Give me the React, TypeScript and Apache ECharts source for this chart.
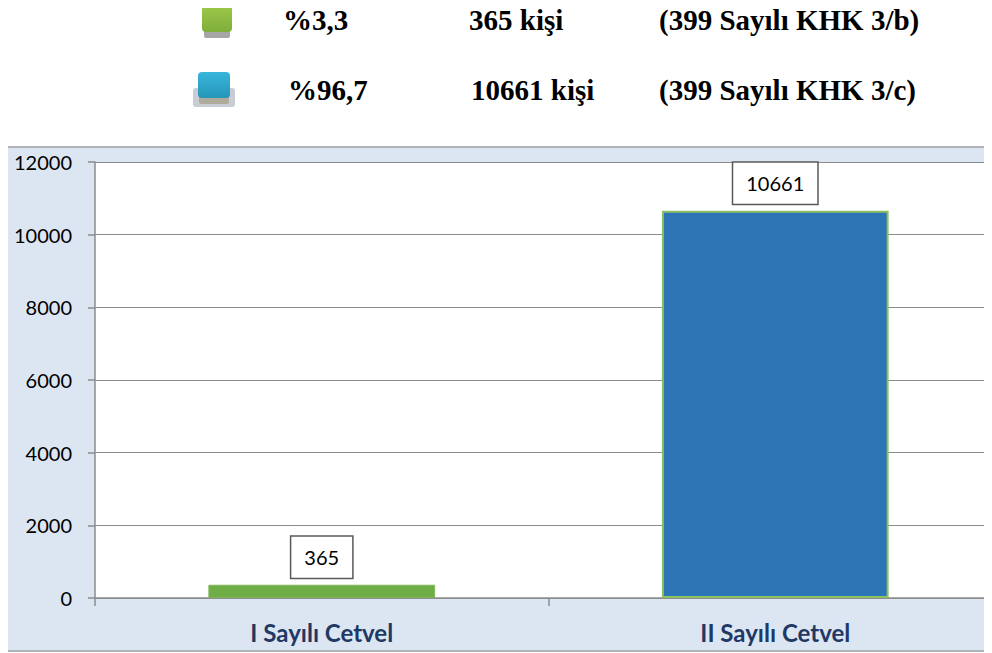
import React, { useEffect, useRef } from "react";
import * as echarts from "echarts";

const categories = ["I Sayılı Cetvel", "II Sayılı Cetvel"];
const values = [365, 10661];
const barColors = ["#70ad47", "#2e75b6"];
const yTicks = { min: 0, max: 12000, interval: 2000 };
const legendPercents = ["%3,3", "%96,7"];
const legendCounts = ["365 kişi", "10661 kişi"];
const legendNotes = ["(399 Sayılı KHK 3/b)", "(399 Sayılı KHK 3/c)"];

export default function App() {
  const ref = useRef<HTMLDivElement>(null);
  useEffect(() => {
    if (!ref.current) return;
    const chart = echarts.init(ref.current, null, { renderer: "svg" });
    const serif = "'Liberation Serif', 'Times New Roman', serif";
    const sans = "Lato, 'Open Sans', sans-serif";
    const legendText = (txt: string, x: number, y: number) => ({
      type: "text",
      x,
      y,
      style: {
        text: txt,
        font: `bold 29px ${serif}`,
        fill: "#000",
        textVerticalAlign: "middle",
      },
    });
    // coordinates below: chart origin is at page (8, 0)
    const rowY = [20, 90];
    const pctX = [275, 280];
    const countX = [461, 463];
    const noteX = [651, 651];
    const graphics: any[] = [
      {
        type: "rect",
        z: -10,
        shape: { x: -1, y: 147, width: 1100, height: 504 },
        style: { fill: "#dce6f2", stroke: "#b0b4b8", lineWidth: 2 },
      },
      // green icon
      {
        type: "rect",
        shape: { x: 196, y: 30, width: 26, height: 8, r: 2 },
        style: { fill: "#a6a6a6" },
      },
      {
        type: "rect",
        shape: { x: 194, y: 5, width: 30, height: 27, r: 4 },
        style: {
          fill: new echarts.graphic.LinearGradient(0, 0, 0, 1, [
            { offset: 0, color: "#9dc84a" },
            { offset: 1, color: "#7fae3a" },
          ]),
        },
      },
      // blue icon
      {
        type: "rect",
        shape: { x: 185, y: 88, width: 42, height: 19, r: 3 },
        style: { fill: "#c8ccd4" },
      },
      {
        type: "rect",
        shape: { x: 191, y: 90, width: 30, height: 14, r: 2 },
        style: { fill: "#b0aa9c" },
      },
      {
        type: "rect",
        shape: { x: 190, y: 72, width: 32, height: 26, r: 4 },
        style: {
          fill: new echarts.graphic.LinearGradient(0, 0, 0, 1, [
            { offset: 0, color: "#38b6dc" },
            { offset: 1, color: "#2596b8" },
          ]),
        },
      },
    ];
    for (let i = 0; i < 2; i++) {
      graphics.push(legendText(legendPercents[i], pctX[i], rowY[i]));
      graphics.push(legendText(legendCounts[i], countX[i], rowY[i]));
      graphics.push(legendText(legendNotes[i], noteX[i], rowY[i]));
    }

    chart.setOption({
      animation: false,
      graphic: graphics,
      grid: {
        left: 87,
        top: 162,
        width: 907,
        height: 436,
        show: true,
        backgroundColor: "#ffffff",
        borderWidth: 0,
      },
      xAxis: {
        type: "category",
        data: categories,
        axisLine: { lineStyle: { color: "#8c8c8c", width: 1.5 } },
        axisTick: { show: true, length: 8, lineStyle: { color: "#8c8c8c", width: 1.5 } },
        axisLabel: {
          fontFamily: sans,
          fontWeight: "bold",
          fontSize: 24,
          color: "#1f3864",
          margin: 22,
        },
      },
      yAxis: {
        type: "value",
        min: yTicks.min,
        max: yTicks.max,
        interval: yTicks.interval,
        axisLine: { show: true, lineStyle: { color: "#8c8c8c", width: 1.5 } },
        axisTick: { show: true, length: 7, lineStyle: { color: "#8c8c8c", width: 1.5 } },
        axisLabel: {
          fontFamily: sans,
          fontSize: 20,
          color: "#000",
          margin: 23,
          formatter: (v: number) => String(v),
        },
        splitLine: { lineStyle: { color: "#8c8c8c", width: 1.2 } },
      },
      series: [
        {
          type: "bar",
          barWidth: "50%",
          data: values.map((v, i) => ({
            value: v,
            itemStyle: {
              color: barColors[i],
              borderColor: i === 1 ? "#8cc161" : "#7fb75a",
              borderWidth: i === 1 ? 2 : 1,
            },
          })),
          label: {
            show: true,
            position: "top",
            distance: 7,
            fontFamily: sans,
            fontSize: 20,
            color: "#000",
            backgroundColor: "#fff",
            borderColor: "#595959",
            borderWidth: 1.5,
            padding: [9, 13, 9, 13],
            lineHeight: 23,
          },
        },
      ],
    });
    return () => chart.dispose();
  }, []);
  return (
    <div
      style={{
        width: 984,
        height: 653,
        overflow: "hidden",
        position: "relative",
        top: -8,
      }}
    >
      <div ref={ref} style={{ width: 1020, height: 653 }} />
    </div>
  );
}
